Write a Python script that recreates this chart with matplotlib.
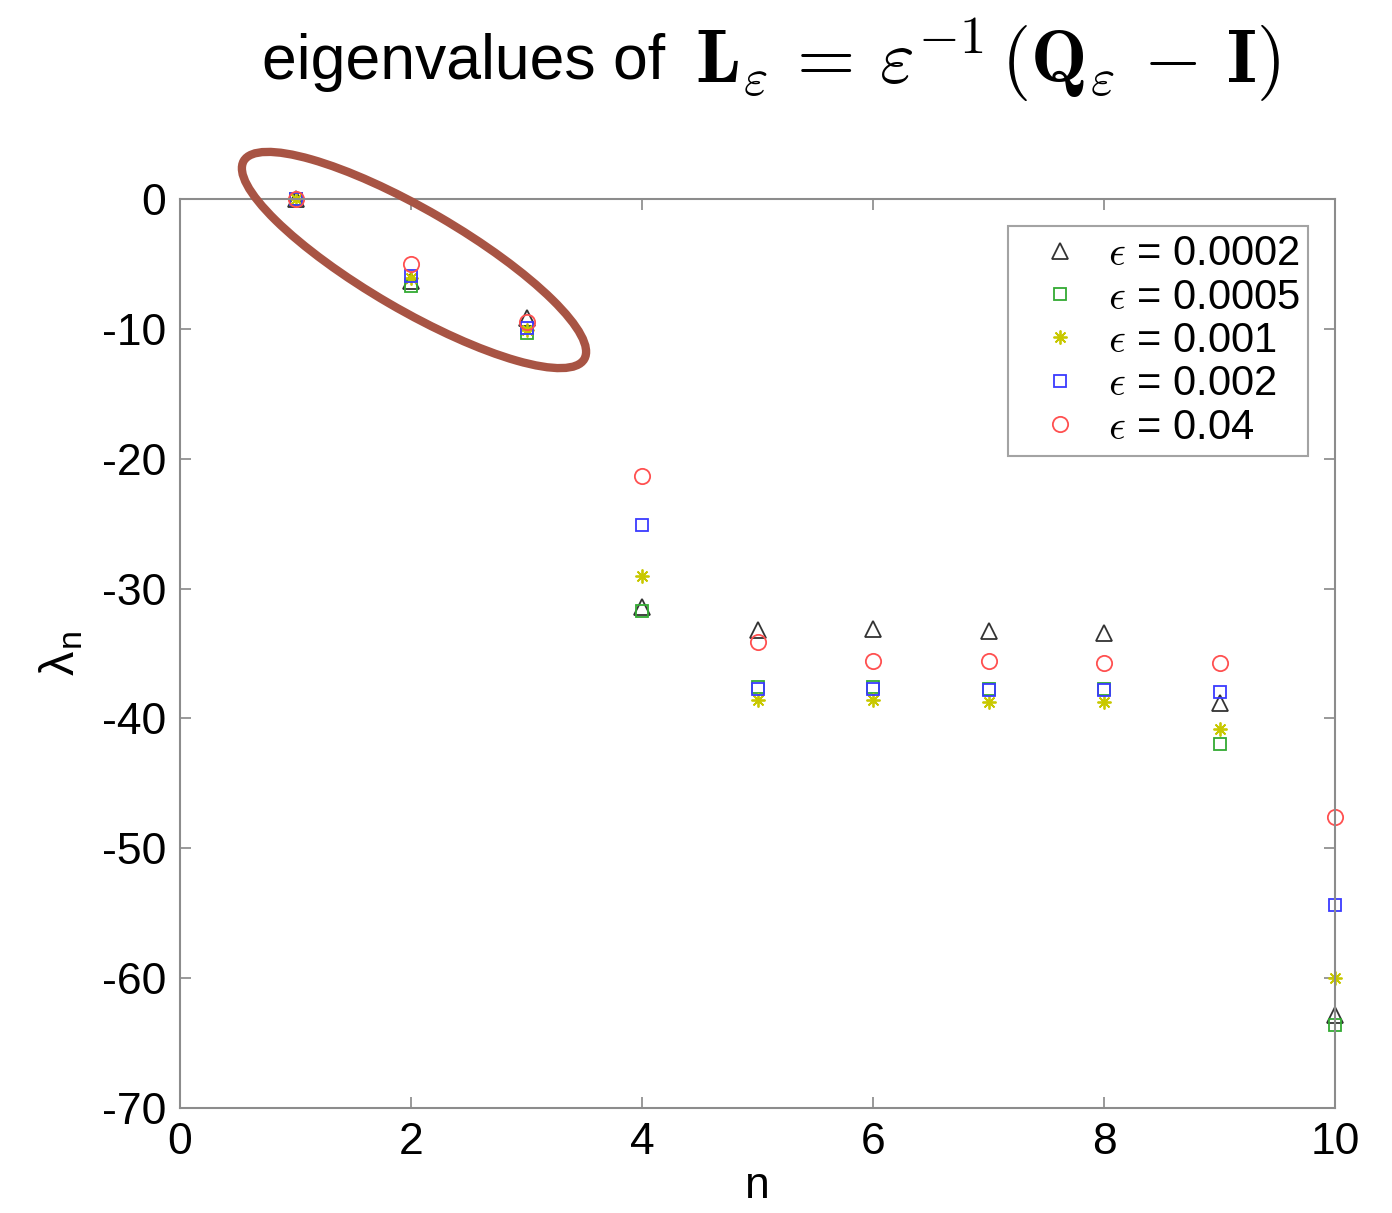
import matplotlib
matplotlib.use("Agg")
import matplotlib.pyplot as plt
from matplotlib.patches import Ellipse
from matplotlib.transforms import IdentityTransform

plt.rcParams['font.family'] = ['Liberation Sans', 'DejaVu Sans']
plt.rcParams['mathtext.fontset'] = 'cm'

n = [1, 2, 3, 4, 5, 6, 7, 8, 9, 10]
eps_labels = ["0.0002", "0.0005", "0.001", "0.002", "0.04"]
lam_0002 = [0, -6.3, -9.2, -31.4, -33.2, -33.1, -33.3, -33.4, -38.8, -62.8]
lam_0005 = [0, -6.7, -10.3, -31.7, -37.6, -37.6, -37.7, -37.7, -42.0, -63.6]
lam_001 = [0, -6.1, -10.1, -29.0, -38.6, -38.6, -38.7, -38.7, -40.8, -60.0]
lam_002 = [0, -5.9, -9.9, -25.1, -37.7, -37.7, -37.8, -37.8, -38.0, -54.4]
lam_04 = [0, -5.0, -9.5, -21.3, -34.1, -35.6, -35.6, -35.7, -35.7, -47.6]

series = [lam_0002, lam_0005, lam_001, lam_002, lam_04]
markers = ['^', 's', (8, 2, 0), 's', 'o']
colors = ['#333333', '#33aa33', '#c8c800', '#3a3aff', '#ff5050']
sizes = [11, 9, 10, 9, 11]

fig = plt.figure(figsize=(13.92, 12.13), dpi=100)
ax = fig.add_axes([180/1392, 1-1108/1213, (1335-180)/1392, (1108-199)/1213])

for vals, m, c, s, lab in zip(series, markers, colors, sizes, eps_labels):
    ax.plot(n, vals, linestyle='none', marker=m, markersize=s,
            markerfacecolor='none', markeredgecolor=c, markeredgewidth=1.3,
            label=r'$\epsilon$ = ' + lab, clip_on=False)

ax.set_xlim(0, 10)
ax.set_ylim(-70, 0)
ax.set_xticks([0, 2, 4, 6, 8, 10])
ax.set_yticks([0, -10, -20, -30, -40, -50, -60, -70])
ax.set_yticklabels(['0', '-10', '-20', '-30', '-40', '-50', '-60', '-70'])
ax.tick_params(direction='in', length=8, width=1.2, color='#888888',
               labelsize=32, top=True, right=True, pad=10)
for sp in ax.spines.values():
    sp.set_color('#8c8c8c')
    sp.set_linewidth(1.5)

ax.set_xlabel('n', fontsize=32, labelpad=2)
ax.set_ylabel('λ$_{\\mathregular{n}}$', fontsize=35, labelpad=12)

leg = ax.legend(loc='upper right', bbox_to_anchor=((1308-180)/1155, 1-(226-199)/909),
                fontsize=30, frameon=True, fancybox=False, edgecolor='#8c8c8c',
                borderpad=0.2, labelspacing=0.08, handlelength=2.1, handletextpad=0.1,
                borderaxespad=0)
leg.get_frame().set_linewidth(1.5)

fig.text(262/1392, 1-62/1213, 'eigenvalues of', fontsize=45, va='center', ha='left')
fig.text(695/1392, 1-60/1213,
         r'$\mathbf{L}_\varepsilon \,=\, \varepsilon^{-1}\,(\mathbf{Q}_\varepsilon \,-\, \mathbf{I})$',
         fontsize=54, va='center', ha='left')

ell = Ellipse((414, 1213-260), width=394, height=100, angle=-30.2,
              fill=False, edgecolor='#a85444', linewidth=6,
              transform=IdentityTransform(), clip_on=False)
fig.add_artist(ell)

fig.savefig('out.png', dpi=100)
